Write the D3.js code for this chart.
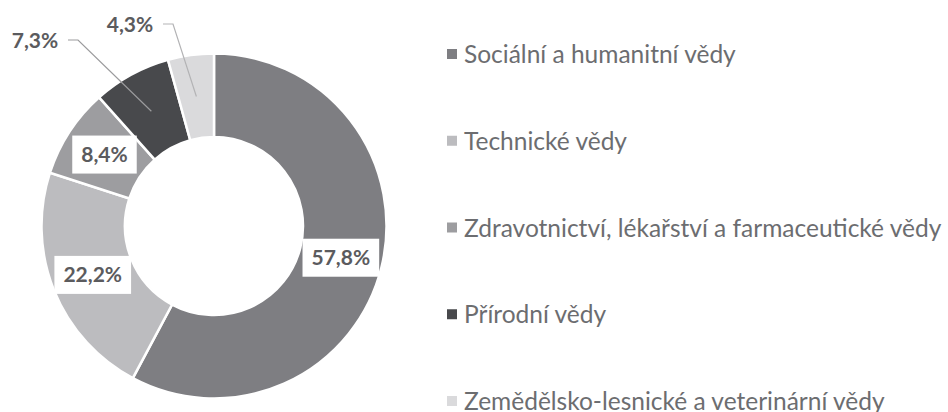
<!DOCTYPE html>
<html>
<head>
<meta charset="utf-8">
<script src="https://cdn.jsdelivr.net/npm/d3@7"></script>
<style>
  body { margin: 0; background: #fff; }
  svg { display: block; }
</style>
</head>
<body>
<svg id="chart"></svg>
<script>
const categories = [
  'Sociální a humanitní vědy',
  'Technické vědy',
  'Zdravotnictví, lékařství a farmaceutické vědy',
  'Přírodní vědy',
  'Zemědělsko-lesnické a veterinární vědy'
];
const shares = [57.8, 22.2, 8.4, 7.3, 4.3];
const labels = ['57,8%', '22,2%', '8,4%', '7,3%', '4,3%'];
const colors = ['#7e7e82', '#bcbcbf', '#9d9da0', '#48494c', '#dadadc'];

const width = 948, height = 412;
const cx = 214, cy = 226;
const outerR = 172.5, innerR = 89;
const font = 'Lato, "Open Sans", sans-serif';

const svg = d3.select('#chart').attr('width', width).attr('height', height);

const data = categories.map((c, i) => ({ category: c, value: shares[i], label: labels[i], color: colors[i] }));

const pie = d3.pie().sort(null).value(d => d.value);
const arc = d3.arc().innerRadius(innerR).outerRadius(outerR);
const arcs = pie(data);

const g = svg.append('g').attr('transform', `translate(${cx},${cy})`);

g.selectAll('path.slice')
  .data(arcs)
  .enter()
  .append('path')
  .attr('class', 'slice')
  .attr('d', arc)
  .attr('fill', d => d.data.color)
  .attr('stroke', '#fff')
  .attr('stroke-width', 2.5)
  .attr('stroke-linejoin', 'miter');

// labels: boxed inside for big slices, leader lines for small ones
const outside = {
  3: { tx: -179, ty: -178, line: [[-146, -186], [-136, -186]] },
  4: { tx: -84, ty: -194, line: [[-51, -202], [-41, -202]] }
};

const labelG = g.append('g');
arcs.forEach((d, i) => {
  const [x, y] = arc.centroid(d);
  if (outside[i]) {
    const o = outside[i];
    labelG.append('path')
      .attr('d', d3.line()([...o.line, [x, y]]))
      .attr('fill', 'none')
      .attr('stroke', i === 3 ? '#9b9b9d' : '#b3b3b5')
      .attr('stroke-width', 1.2);
    labelG.append('text')
      .attr('x', o.tx)
      .attr('y', o.ty)
      .attr('text-anchor', 'middle')
      .style('font-family', font)
      .style('font-weight', 'bold')
      .style('font-size', '21px')
      .style('fill', '#5b5b5e')
      .text(d.data.label);
  } else {
    const t = labelG.append('text')
      .attr('x', x)
      .attr('y', y)
      .attr('dy', '0.36em')
      .attr('text-anchor', 'middle')
      .style('font-family', font)
      .style('font-weight', 'bold')
      .style('font-size', '21px')
      .style('fill', '#5b5b5e')
      .text(d.data.label);
    const w = t.node().getComputedTextLength();
    labelG.insert('rect', function () { return t.node(); })
      .attr('x', x - w / 2 - 9)
      .attr('y', y - 19)
      .attr('width', w + 18)
      .attr('height', 38)
      .attr('fill', '#fff');
  }
});

// legend
const legendY = d3.scalePoint().domain(categories).range([63, 410]);
const legend = svg.selectAll('.legend')
  .data(data)
  .enter()
  .append('g')
  .attr('class', 'legend')
  .attr('transform', d => `translate(447,${legendY(d.category)})`);

legend.append('rect')
  .attr('y', -14)
  .attr('width', 10)
  .attr('height', 10)
  .attr('fill', d => d.color);

legend.append('text')
  .attr('x', 17)
  .attr('y', 0)
  .style('font-family', font)
  .style('font-size', '24.5px')
  .style('fill', '#6c6d70')
  .text(d => d.category);
</script>
</body>
</html>
